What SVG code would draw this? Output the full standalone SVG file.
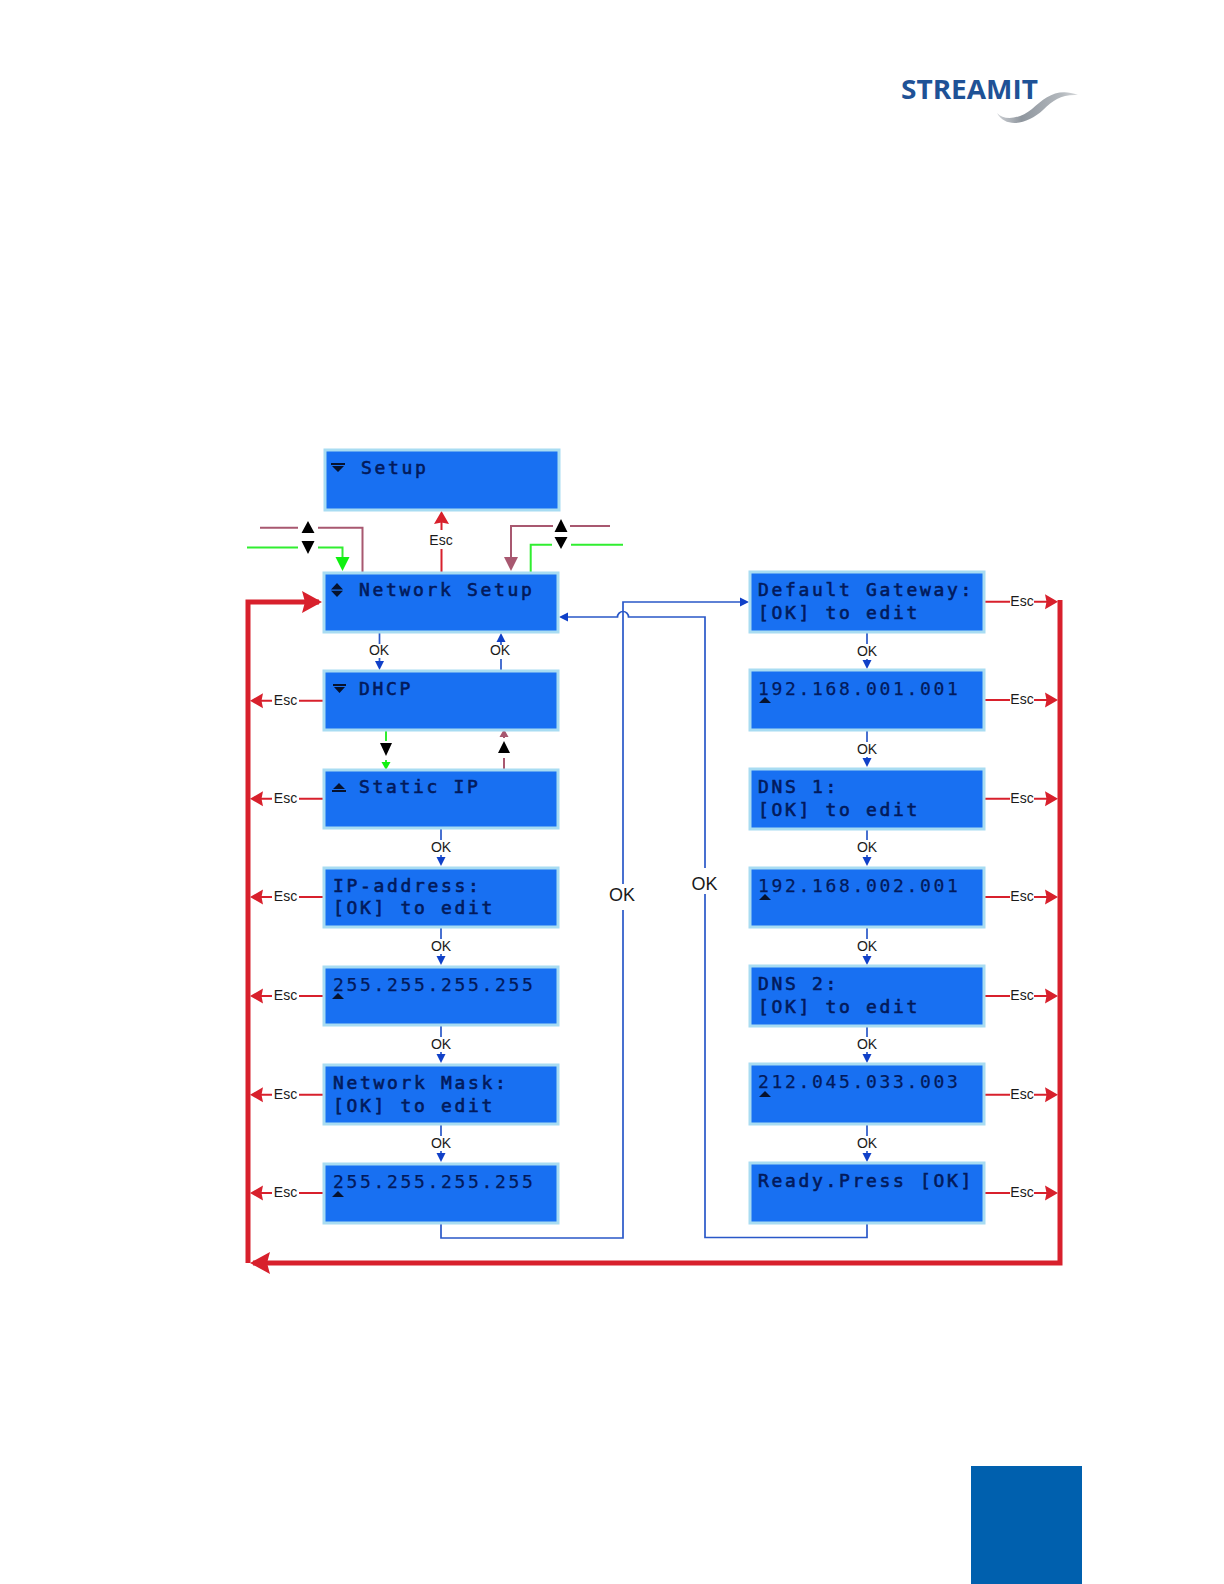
<svg xmlns="http://www.w3.org/2000/svg" width="1224" height="1584" viewBox="0 0 1224 1584">
<defs>
<style>
.box{fill:#1870f2;stroke:#a8dcf2;stroke-width:3}
.lcd{font-family:"DejaVu Sans Mono",monospace;font-size:18px;letter-spacing:2.66px;fill:#021a5c;stroke:#021a5c;stroke-width:.6}
.thin{stroke-width:.25}
.g{fill:#06122e}
.lbl{font-family:"Liberation Sans",Arial,sans-serif;font-size:14px;fill:#1a1a1a;text-anchor:middle}
.big{font-size:18px}
.c{fill:none}
.red{stroke:#d8202c;stroke-width:2}
.redt{stroke:#d8202c;stroke-width:5}
.blue{stroke:#2a58c8;stroke-width:1.7}
.green{stroke:#30ee30;stroke-width:2}
.mauve{stroke:#a85870;stroke-width:2}
</style>
<marker id="mr" markerUnits="userSpaceOnUse" markerWidth="14" markerHeight="16" refX="10" refY="8" orient="auto"><path d="M0 .5L13 8L0 15.500L1.500 8Z" fill="#d8202c"/></marker>
<marker id="mR" markerUnits="userSpaceOnUse" markerWidth="22" markerHeight="24" refX="17" refY="12" orient="auto"><path d="M0 1L20 12L0 23L3 12Z" fill="#d8202c"/></marker>
<marker id="mb" markerUnits="userSpaceOnUse" markerWidth="10" markerHeight="10" refX="4" refY="5" orient="auto"><path d="M0 .5L9 5L0 9.5Z" fill="#1040c8"/></marker>
<marker id="mg" markerUnits="userSpaceOnUse" markerWidth="16" markerHeight="16" refX="11" refY="8" orient="auto"><path d="M0 1L14 8L0 15Z" fill="#10f010"/></marker>
<marker id="mg2" markerUnits="userSpaceOnUse" markerWidth="10" markerHeight="10" refX="4" refY="5" orient="auto"><path d="M0 .5L8 5L0 9.5Z" fill="#10f010"/></marker>
<marker id="mm" markerUnits="userSpaceOnUse" markerWidth="16" markerHeight="16" refX="11" refY="8" orient="auto"><path d="M0 1L14 8L0 15Z" fill="#a85870"/></marker>
<marker id="mm2" markerUnits="userSpaceOnUse" markerWidth="10" markerHeight="10" refX="4" refY="5" orient="auto"><path d="M0 .5L8 5L0 9.5Z" fill="#a85870"/></marker>
<linearGradient id="sw" x1="0" x2="1" y1="0" y2="0"><stop offset="0" stop-color="#9aa0a8" stop-opacity=".5"/><stop offset=".3" stop-color="#8f969e"/><stop offset=".8" stop-color="#b4b9be"/><stop offset="1" stop-color="#d8dadc"/></linearGradient>
</defs>
<rect width="1224" height="1584" fill="#fff"/>
<g id="logo">
<text x="901" y="99" font-family="Open Sans,Liberation Sans,sans-serif" font-weight="700" font-size="26" fill="#1f5296" textLength="137" lengthAdjust="spacingAndGlyphs">STREAMIT</text>
<path d="M997 113C1004 121 1020 119 1032 109C1045 97 1058 87 1078 95C1062 94 1053 100 1043 110C1028 124 1006 129 997 113Z" fill="url(#sw)"/>
</g>
<rect id="page-tab" x="971" y="1466" width="111" height="118" fill="#0060ae"/>

<g id="connectors">
<path class="c redt" d="M248 1263V602H319" marker-end="url(#mR)"/>
<path class="c redt" d="M1060 600V1263H253" marker-end="url(#mR)"/>
<path class="c red" d="M441.500 572V549M441.500 530V514" marker-end="url(#mr)"/>
<path class="c mauve" d="M260 527.700H298M318 527.700H362.500V572"/>
<path class="c green" d="M247 547.500H298M318 547.500H342.500V568" marker-end="url(#mg)"/>
<path class="c mauve" d="M610 526H570M553 526H511V568" marker-end="url(#mm)"/>
<path class="c green" d="M623 544.700H571M552 544.700H530.700V572"/>
<path class="c green" d="M386 731V741"/>
<path class="c green" d="M386 760V766" marker-end="url(#mg2)"/>
<path class="c mauve" d="M504 769V758"/>
<path class="c mauve" d="M504 738V733" marker-end="url(#mm2)"/>
<path class="c blue" d="M379.500 633V644M379.500 658V665" marker-end="url(#mb)"/>
<path class="c blue" d="M501 670V659M501 645V638" marker-end="url(#mb)"/>
<path class="c blue" d="M441 829V840M441 855V861" marker-end="url(#mb)"/>
<path class="c blue" d="M441 928V939M441 954V960" marker-end="url(#mb)"/>
<path class="c blue" d="M441 1026V1037M441 1052V1058" marker-end="url(#mb)"/>
<path class="c blue" d="M441 1125V1136M441 1151V1157" marker-end="url(#mb)"/>
<path class="c blue" d="M867 633V644M867 659V664" marker-end="url(#mb)"/>
<path class="c blue" d="M867 731V742M867 757V762" marker-end="url(#mb)"/>
<path class="c blue" d="M867 829V840M867 855V861" marker-end="url(#mb)"/>
<path class="c blue" d="M867 928V939M867 954V960" marker-end="url(#mb)"/>
<path class="c blue" d="M867 1026V1037M867 1052V1058" marker-end="url(#mb)"/>
<path class="c blue" d="M867 1125V1136M867 1151V1157" marker-end="url(#mb)"/>
<path class="c blue" d="M441 1224V1238H623V910M623 884V602H744" marker-end="url(#mb)"/>
<path class="c blue" d="M867 1224V1237.500H705V894M705 868V617H628.500A5.500 5.500 0 0 0 617.500 617H564" marker-end="url(#mb)"/>
<path class="c red" d="M323 700.700H299M272 700.700H253" marker-end="url(#mr)"/>
<path class="c red" d="M323 798.700H299M272 798.700H253" marker-end="url(#mr)"/>
<path class="c red" d="M323 897H299M272 897H253" marker-end="url(#mr)"/>
<path class="c red" d="M323 996H299M272 996H253" marker-end="url(#mr)"/>
<path class="c red" d="M323 1094.700H299M272 1094.700H253" marker-end="url(#mr)"/>
<path class="c red" d="M323 1193H299M272 1193H253" marker-end="url(#mr)"/>
<path class="c red" d="M985 601.700H1010M1034 601.700H1055" marker-end="url(#mr)"/>
<path class="c red" d="M985 700H1010M1034 700H1055" marker-end="url(#mr)"/>
<path class="c red" d="M985 798.700H1010M1034 798.700H1055" marker-end="url(#mr)"/>
<path class="c red" d="M985 897H1010M1034 897H1055" marker-end="url(#mr)"/>
<path class="c red" d="M985 996H1010M1034 996H1055" marker-end="url(#mr)"/>
<path class="c red" d="M985 1094.700H1010M1034 1094.700H1055" marker-end="url(#mr)"/>
<path class="c red" d="M985 1193H1010M1034 1193H1055" marker-end="url(#mr)"/>
<path d="M308 521L314.500 533H301.500Z M301.500 541H314.500L308 554Z M561 519L567.500 532H554.500Z M554.500 537H567.500L561 549Z M380 743H392L386 756Z M504 741L510 753H498Z" fill="#000"/>
<g class="lbl">
<text x="441" y="545">Esc</text>
<text x="379" y="655">OK</text><text x="500" y="655">OK</text>
<text x="441" y="852">OK</text><text x="441" y="951">OK</text><text x="441" y="1049">OK</text><text x="441" y="1148">OK</text>
<text x="867" y="656">OK</text><text x="867" y="754">OK</text><text x="867" y="852">OK</text><text x="867" y="951">OK</text><text x="867" y="1049">OK</text><text x="867" y="1148">OK</text>
<text x="285.500" y="705">Esc</text><text x="285.500" y="803">Esc</text><text x="285.500" y="901">Esc</text><text x="285.500" y="1000">Esc</text><text x="285.500" y="1099">Esc</text><text x="285.500" y="1197">Esc</text>
<text x="1022" y="606">Esc</text><text x="1022" y="704">Esc</text><text x="1022" y="803">Esc</text><text x="1022" y="901">Esc</text><text x="1022" y="1000">Esc</text><text x="1022" y="1099">Esc</text><text x="1022" y="1197">Esc</text>
<text class="big" x="622" y="901">OK</text><text class="big" x="704.500" y="890">OK</text>
</g>
</g>

<g id="node-setup"><rect class="box" x="325" y="450" width="234" height="60"/><path class="g" d="M331 463H345V465H331ZM332 466H344L338 472Z"/><text class="lcd" x="361" y="474">Setup</text></g>
<g id="node-network-setup"><rect class="box" x="324" y="573" width="234" height="59"/><path class="g" d="M337 583L343 589.500H331ZM331 590.700H343L337 597Z"/><text class="lcd" x="359" y="596">Network Setup</text></g>
<g id="node-dhcp"><rect class="box" x="324" y="671" width="234" height="59"/><path class="g" d="M333 684H346V686H333ZM334 687H345L339.500 693Z"/><text class="lcd" x="359" y="695">DHCP</text></g>
<g id="node-static-ip"><rect class="box" x="324" y="770" width="234" height="58"/><path class="g" d="M339 783L345 789H333ZM332 790H346V792H332Z"/><text class="lcd" x="359" y="793">Static IP</text></g>
<g id="node-ip-address"><rect class="box" x="324" y="868" width="234" height="59"/><text class="lcd" x="333" y="892">IP-address:</text><text class="lcd" x="333" y="914">[OK] to edit</text></g>
<g id="node-ip-value"><rect class="box" x="324" y="967" width="234" height="58"/><text class="lcd thin" x="333" y="991">255.255.255.255</text><path class="g" d="M338 993L344 999H332Z"/></g>
<g id="node-network-mask"><rect class="box" x="324" y="1065" width="234" height="59"/><text class="lcd" x="333" y="1089">Network Mask:</text><text class="lcd" x="333" y="1112">[OK] to edit</text></g>
<g id="node-mask-value"><rect class="box" x="324" y="1164" width="234" height="59"/><text class="lcd thin" x="333" y="1188">255.255.255.255</text><path class="g" d="M338 1191L344 1197H332Z"/></g>
<g id="node-default-gateway"><rect class="box" x="750" y="572" width="234" height="60"/><text class="lcd" x="758" y="596">Default Gateway:</text><text class="lcd" x="758" y="619">[OK] to edit</text></g>
<g id="node-gateway-value"><rect class="box" x="750" y="670" width="234" height="60"/><text class="lcd thin" x="758" y="695">192.168.001.001</text><path class="g" d="M765 697L771 703H759Z"/></g>
<g id="node-dns1"><rect class="box" x="750" y="769" width="234" height="60"/><text class="lcd" x="758" y="793">DNS 1:</text><text class="lcd" x="758" y="816">[OK] to edit</text></g>
<g id="node-dns1-value"><rect class="box" x="750" y="868" width="234" height="59"/><text class="lcd thin" x="758" y="892">192.168.002.001</text><path class="g" d="M765 894L771 900H759Z"/></g>
<g id="node-dns2"><rect class="box" x="750" y="966" width="234" height="60"/><text class="lcd" x="758" y="990">DNS 2:</text><text class="lcd" x="758" y="1013">[OK] to edit</text></g>
<g id="node-dns2-value"><rect class="box" x="750" y="1064" width="234" height="60"/><text class="lcd thin" x="758" y="1088">212.045.033.003</text><path class="g" d="M765 1091L771 1097H759Z"/></g>
<g id="node-ready"><rect class="box" x="750" y="1163" width="234" height="60"/><text class="lcd" x="758" y="1187">Ready.Press [OK]</text></g>
</svg>
